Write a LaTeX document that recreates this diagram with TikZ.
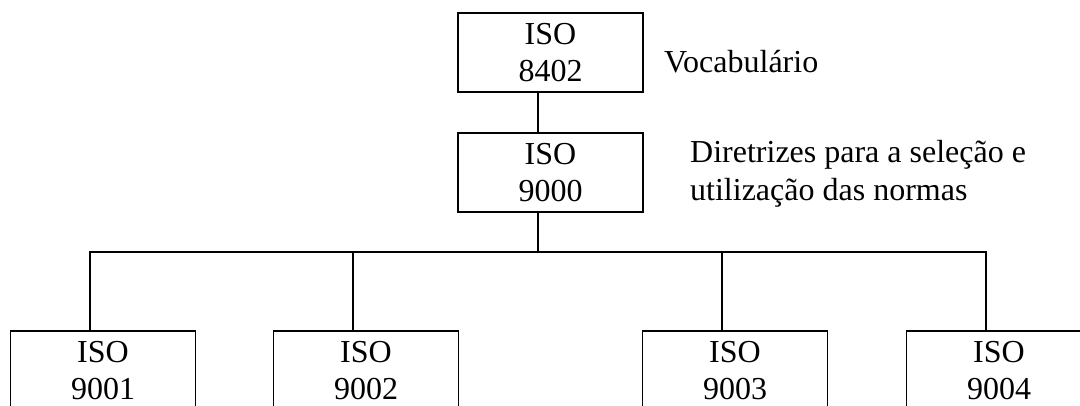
\documentclass[tikz,border=0pt]{standalone}
\usepackage{fontspec}
\setmainfont{Liberation Serif}
\begin{document}
\begin{tikzpicture}[x=1pt,y=-1pt,
  isobox/.style={draw=black, line width=1.1pt, minimum width=185pt, minimum height=79pt,
    inner sep=0pt, align=center, font=\fontsize{32}{37}\selectfont},
  conn/.style={draw=black, line width=1.1pt},
  lbl/.style={anchor=base west, inner sep=0pt, font=\fontsize{32}{38}\selectfont}]
\useasboundingbox (0,0) rectangle (1080,405);
\node[isobox] (top) at (550.5,52.5) {ISO\\8402};
\node[isobox] (mid) at (550.5,172.5) {ISO\\9000};
\node[isobox] (b1) at (103,370.5) {ISO\\9001};
\node[isobox] (b2) at (366,370.5) {ISO\\9002};
\node[isobox] (b3) at (735,370.5) {ISO\\9003};
\node[isobox] (b4) at (999,370.5) {ISO\\9004};
\node[lbl] (voc) at (664,72) {Vocabulário};
\node[lbl] (dir1) at (690,162) {Diretrizes para a seleção e};
\node[lbl] (dir2) at (690,200) {utilização das normas};
\coordinate (s0) at (538,252);
\coordinate (s1) at (90,252);
\coordinate (s2) at (353,252);
\coordinate (s3) at (722,252);
\coordinate (s4) at (986,252);
\draw[conn] (top.south -| s0) -- (mid.north -| s0);
\draw[conn] (mid.south -| s0) -- (s0);
\draw[conn, line join=miter] (b1.north -| s1) -- (s1) -- (s4) -- (b4.north -| s4);
\draw[conn] (s2) -- (b2.north -| s2);
\draw[conn] (s3) -- (b3.north -| s3);
\end{tikzpicture}
\end{document}
